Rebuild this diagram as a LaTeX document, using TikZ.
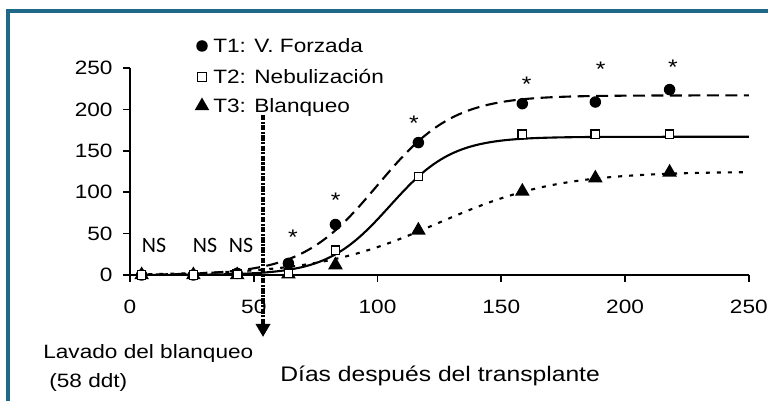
\documentclass[tikz,border=0pt]{standalone}
\usepackage{fontspec}
\setmainfont{Liberation Sans}[FakeStretch=1.17]
\newfontfamily\nsfont{Carlito}
\usetikzlibrary{shapes.geometric, arrows.meta}
\definecolor{framecol}{RGB}{31,104,135}

\begin{document}
\begin{tikzpicture}[x=0.02cm, y=-0.02cm,
  lbl/.style = {inner sep=0, font=\fontsize{11}{13}\selectfont},
  sig/.style = {inner sep=0, font=\fontsize{12}{14}\selectfont},
  ns/.style = {inner sep=0, font=\nsfont\fontsize{12.5}{14}\selectfont},
  t1/.style = {circle, fill, inner sep=0, minimum size=0.23cm},
  t2/.style = {rectangle, draw, fill=white, line width=0.7pt, inner sep=0, minimum size=0.17cm},
  t3/.style = {regular polygon, regular polygon sides=3, fill, inner sep=0, minimum size=0.34cm},
  fit1/.style = {line width=1.2pt, dash pattern=on 0.24cm off 0.13cm},
  fit2/.style = {line width=1.2pt},
  fit3/.style = {line width=1.2pt, dash pattern=on 0.08cm off 0.14cm}]
  \clip (0,0) rectangle (768,401);
  \draw[framecol, line width=0.065cm] (8,11) rectangle (900,500);

  % legend
  \node[t1] (k1) at (202,46) {};
  \node[t2] (k2) at (202,77) {};
  \node[t3] (k3) at (202,106) {};
  \node[lbl, anchor=base west] (l1) at (213,53) {T1: V. Forzada};
  \node[lbl, anchor=base west] (l2) at (213,84) {T2: Nebulización};
  \node[lbl, anchor=base west] (l3) at (213,113) {T3: Blanqueo};

  \begin{scope}[shift={(130,275)}, x=0.04952cm, y=0.01656cm]
    % axes
    \draw[line width=1pt] (0,250) -- (0,-8.5);
    \draw[line width=1pt] (-2.8,0) -- (250,0);
    \draw[line width=1pt] (-2.8,50) -- (0,50);
    \draw[line width=1pt] (-2.8,100) -- (0,100);
    \draw[line width=1pt] (-2.8,150) -- (0,150);
    \draw[line width=1pt] (-2.8,200) -- (0,200);
    \draw[line width=1pt] (-2.8,250) -- (0,250);
    \draw[line width=1pt] (50,0) -- (50,-8.5);
    \draw[line width=1pt] (100,0) -- (100,-8.5);
    \draw[line width=1pt] (150,0) -- (150,-8.5);
    \draw[line width=1pt] (200,0) -- (200,-8.5);
    \draw[line width=1pt] (250,0) -- (250,-8.5);
    \node[lbl, anchor=east] (y0) at (-6.9,0) {0};
    \node[lbl, anchor=east] (y50) at (-6.9,50) {50};
    \node[lbl, anchor=east] (y100) at (-6.9,100) {100};
    \node[lbl, anchor=east] (y150) at (-6.9,150) {150};
    \node[lbl, anchor=east] (y200) at (-6.9,200) {200};
    \node[lbl, anchor=east] (y250) at (-6.9,250) {250};
    \node[lbl] (x0) at (0,-38.6) {0};
    \node[lbl] (x50) at (50,-38.6) {50};
    \node[lbl] (x100) at (100,-38.6) {100};
    \node[lbl] (x150) at (150,-38.6) {150};
    \node[lbl] (x200) at (200,-38.6) {200};
    \node[lbl] (x250) at (250,-38.6) {250};

    % fitted curves
    \draw[fit1] plot[domain=3:250, samples=120, smooth] (\x, {217/(1+exp(-0.065*(\x-100)))});
    \draw[fit2] plot[domain=3:250, samples=120, smooth] (\x, {167/(1+exp(-0.079*(\x-105)))});
    \draw[fit3] plot[domain=3:250, samples=120, smooth] (\x, {125/(1+exp(-0.041*(\x-124.3)))});

    % T3 data
    \node[t3] (c1) at (4.7,0) {};
    \node[t3] (c2) at (25.6,0) {};
    \node[t3] (c3) at (43.3,0) {};
    \node[t3] (c4) at (64,1) {};
    \node[t3] (c5) at (83,12) {};
    \node[t3] (c6) at (116.5,54) {};
    \node[t3] (c7) at (158.5,101) {};
    \node[t3] (c8) at (188,117) {};
    \node[t3] (c9) at (218,124) {};
    % T1 data
    \node[t1] (a1) at (4.7,0) {};
    \node[t1] (a2) at (25.6,0) {};
    \node[t1] (a3) at (43.3,2) {};
    \node[t1] (a4) at (64,14) {};
    \node[t1] (a5) at (83,61) {};
    \node[t1] (a6) at (116.5,160) {};
    \node[t1] (a7) at (158.5,207) {};
    \node[t1] (a8) at (188,209) {};
    \node[t1] (a9) at (218,224) {};
    % T2 data
    \node[t2] (b1) at (4.7,0) {};
    \node[t2] (b2) at (25.6,0) {};
    \node[t2] (b3) at (43.3,1) {};
    \node[t2] (b4) at (64,2) {};
    \node[t2] (b5) at (83,30) {};
    \node[t2] (b6) at (116.5,119) {};
    \node[t2] (b7) at (158.5,170) {};
    \node[t2] (b8) at (188,170) {};
    \node[t2] (b9) at (218,170) {};

    % significance
    \node[sig] (s4) at (65.8,45.2) {*};
    \node[sig] (s5) at (83.1,90) {*};
    \node[sig] (s6) at (114.7,183) {*};
    \node[sig] (s7) at (160.3,230) {*};
    \node[sig] (s8) at (190.2,248) {*};
    \node[sig] (s9) at (219.3,250.5) {*};
  \end{scope}

  \node[ns] (ns1) at (154,245) {NS};
  \node[ns] (ns2) at (205,245) {NS};
  \node[ns] (ns3) at (241,245) {NS};

  % wash marker
  \coordinate (wtop) at (263,115);
  \coordinate (wend) at (263,337);
  \draw[line width=2.3pt, dash pattern=on 3pt off 0.8pt on 1.2pt off 0.8pt,
    -{Triangle[width=0.28cm, length=0.26cm]}] (wtop) -- (wend);

  \node[lbl, anchor=base west] (wash) at (43,359) {Lavado del blanqueo};
  \node[lbl, anchor=base west] (ddt) at (49,388) {(58 ddt)};
  \node[lbl, anchor=base west, font=\fontsize{12}{14}\selectfont] (xtitle) at (280,382) {Días después del transplante};
\end{tikzpicture}
\end{document}
